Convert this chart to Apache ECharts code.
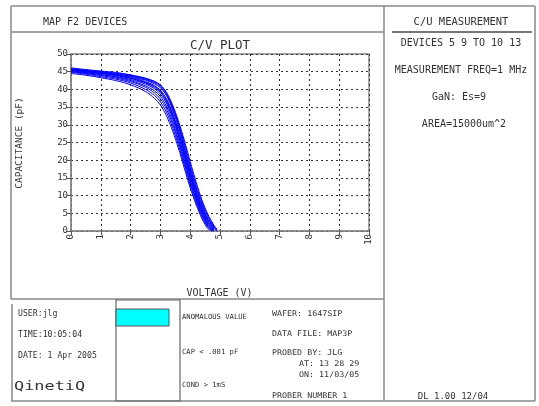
<!DOCTYPE html>
<html>
<head>
<meta charset="utf-8">
<script src="https://cdn.jsdelivr.net/npm/echarts@6/dist/echarts.min.js"></script>
<style>
html,body{margin:0;padding:0;background:#fff;}
#c{width:539px;height:406px;}
</style>
</head>
<body>
<div id="c"></div>
<script>
// Voltage sample points (V)
const voltage = [0, 0.5, 1, 1.5, 2, 2.5, 2.8, 3.0, 3.2, 3.4, 3.6, 3.8, 4.0, 4.2, 4.4, 4.6, 4.8, 4.9];
// Capacitance (pF) per device
const dev01 = [44.5, 44.0, 43.3, 42.5, 41.3, 39.4, 37.5, 35.6, 32.6, 28.5, 23.5, 17.8, 12.2, 7.4, 3.4, 0.6, 0, null];
const dev02 = [44.8, 44.3, 43.6, 42.9, 41.8, 40.0, 38.3, 36.5, 33.6, 29.5, 24.4, 18.7, 13.0, 8.0, 3.9, 1.0, 0, null];
const dev03 = [45.0, 44.5, 43.9, 43.2, 42.2, 40.6, 39.0, 37.3, 34.5, 30.4, 25.3, 19.5, 13.7, 8.6, 4.4, 1.3, 0, null];
const dev04 = [45.3, 44.8, 44.2, 43.5, 42.5, 41.0, 39.6, 38.0, 35.3, 31.2, 26.0, 20.2, 14.3, 9.1, 4.8, 1.6, 0, null];
const dev05 = [45.1, 44.7, 44.2, 43.6, 42.8, 41.5, 40.2, 38.7, 36.1, 32.1, 26.9, 21.0, 15.0, 9.6, 5.2, 1.9, 0.1, null];
const dev06 = [45.5, 45.0, 44.5, 43.9, 43.1, 41.8, 40.6, 39.2, 36.6, 32.6, 27.4, 21.5, 15.5, 10.1, 5.6, 2.2, 0.2, null];
const dev07 = [45.4, 45.0, 44.5, 44.0, 43.2, 42.0, 40.9, 39.5, 37.0, 33.1, 28.0, 22.1, 16.1, 10.6, 6.0, 2.5, 0.4, null];
const dev08 = [45.7, 45.2, 44.7, 44.1, 43.4, 42.2, 41.1, 39.8, 37.4, 33.6, 28.6, 22.7, 16.6, 11.1, 6.4, 2.8, 0.6, null];
const dev09 = [45.6, 45.2, 44.8, 44.3, 43.6, 42.6, 41.6, 40.5, 38.3, 34.5, 29.5, 23.5, 17.3, 11.7, 6.9, 3.2, 0.8, 0];
const dev10 = [45.9, 45.4, 44.9, 44.4, 43.8, 42.8, 41.9, 40.8, 38.7, 35.0, 30.1, 24.2, 18.0, 12.3, 7.4, 3.6, 1.0, 0.2];
const dev11 = [45.8, 45.4, 45.0, 44.6, 44.0, 43.0, 42.1, 41.1, 39.0, 35.4, 30.6, 24.9, 18.8, 13.0, 8.0, 4.1, 1.3, 0.4];
const dev12 = [46.1, 45.6, 45.2, 44.8, 44.1, 43.2, 42.3, 41.3, 39.2, 35.8, 31.2, 25.7, 19.6, 13.8, 8.6, 4.6, 1.6, 0.5];
const devices = [dev01, dev02, dev03, dev04, dev05, dev06, dev07, dev08, dev09, dev10, dev11, dev12];

const FONT = '"DejaVu Sans Mono", monospace';
const TXT = '#333';
const LINE = '#888';

function txt(x, y, s, size, align, extra) {
  return Object.assign({
    type: 'text', x: x, y: y, silent: true,
    style: { text: s, fill: TXT, font: size + 'px ' + FONT, textAlign: align || 'left', textVerticalAlign: 'middle' }
  }, extra || {});
}
function ln(x1, y1, x2, y2, w, c) {
  return { type: 'line', silent: true, shape: { x1: x1, y1: y1, x2: x2, y2: y2 }, style: { stroke: c || LINE, lineWidth: w || 1.5 } };
}

const chart = echarts.init(document.getElementById('c'), null, { renderer: 'canvas' });

const series = devices.map(function (arr, k) {
  const data = [];
  voltage.forEach(function (v, i) { if (arr[i] !== null) data.push([v, arr[i]]); });
  return {
    type: 'line', name: 'dev' + (k + 1), data: data, smooth: 0.3, symbol: 'none',
    lineStyle: { color: '#0000ff', width: 1 }, silent: true, animation: false
  };
});

const graphics = [
  // frame
  ln(11, 6, 535, 6), ln(11, 6, 11, 299), ln(11, 32, 384, 32), ln(11, 299, 384, 299),
  ln(384, 6, 384, 401), ln(535, 6, 535, 401), ln(11, 401, 535, 401), ln(12, 304, 12, 401),
  ln(392, 32, 532, 32, 2, '#777'),
  { type: 'rect', silent: true, shape: { x: 116, y: 300, width: 64, height: 101 }, style: { fill: 'none', stroke: '#666', lineWidth: 1.2 } },
  { type: 'rect', silent: true, shape: { x: 116, y: 309, width: 53, height: 17 }, style: { fill: '#00ffff', stroke: '#555', lineWidth: 1 } },
  // texts
  txt(43, 22, 'MAP F2 DEVICES', 10),
  txt(220, 46, 'C/V PLOT', 12.5, 'center'),
  txt(461, 22, 'C/U MEASUREMENT', 10.5, 'center'),
  txt(461, 43, 'DEVICES 5 9 TO 10 13', 10, 'center'),
  txt(461, 70, 'MEASUREMENT FREQ=1 MHz', 10, 'center'),
  txt(459, 97, 'GaN: Es=9', 10, 'center'),
  txt(464, 124, 'AREA=15000um^2', 10, 'center'),
  txt(219.5, 293, 'VOLTAGE (V)', 10, 'center'),
  txt(20, 143, 'CAPACITANCE (pF)', 9.5, 'center', { rotation: Math.PI / 2 }),
  txt(18, 314, 'USER:jlg', 8.2),
  txt(18, 335, 'TIME:10:05:04', 8.2),
  txt(18, 356, 'DATE: 1 Apr 2005', 8.2),
  txt(20, 387, 'QinetiQ', 13, 'left', { scaleX: 1.3, originX: 20, originY: 387 }),
  txt(182, 317, 'ANOMALOUS VALUE', 7.2),
  txt(182, 352, 'CAP < .001 pF', 7.2),
  txt(182, 385, 'COND > 1mS', 7.2),
  txt(272, 314, 'WAFER: 1647SIP', 7.8, 'left', { scaleX: 1.07 }),
  txt(272, 334, 'DATA FILE: MAP3P', 7.8, 'left', { scaleX: 1.07 }),
  txt(272, 353, 'PROBED BY: JLG', 7.8, 'left', { scaleX: 1.07 }),
  txt(299, 364, 'AT: 13 28 29', 7.8, 'left', { scaleX: 1.07 }),
  txt(299, 375, 'ON: 11/03/05', 7.8, 'left', { scaleX: 1.07 }),
  txt(272, 396, 'PROBER NUMBER 1', 7.8, 'left', { scaleX: 1.07 }),
  txt(453, 397, 'DL 1.00 12/04', 9, 'center')
];

chart.setOption({
  animation: false,
  backgroundColor: '#fff',
  grid: { left: 71, top: 54, width: 298, height: 177, show: true, borderColor: '#888', borderWidth: 1.5, backgroundColor: 'transparent' },
  xAxis: {
    type: 'value', min: 0, max: 10, interval: 1,
    axisLine: { show: true, onZero: false, lineStyle: { color: '#888', width: 1.5 } },
    axisTick: { show: true, length: 4, lineStyle: { color: '#555' } },
    axisLabel: { rotate: 90, margin: 3, color: TXT, fontFamily: FONT, fontSize: 9 },
    splitLine: { show: true, lineStyle: { color: '#333', type: [2, 3], width: 1 } }
  },
  yAxis: {
    type: 'value', min: 0, max: 50, interval: 5,
    axisLine: { show: true, onZero: false, lineStyle: { color: '#888', width: 1.5 } },
    axisTick: { show: true, length: 4, lineStyle: { color: '#555' } },
    axisLabel: { margin: 3, color: TXT, fontFamily: FONT, fontSize: 9 },
    splitLine: { show: true, lineStyle: { color: '#333', type: [2, 3], width: 1 } }
  },
  series: series,
  graphic: graphics
});
</script>
</body>
</html>
